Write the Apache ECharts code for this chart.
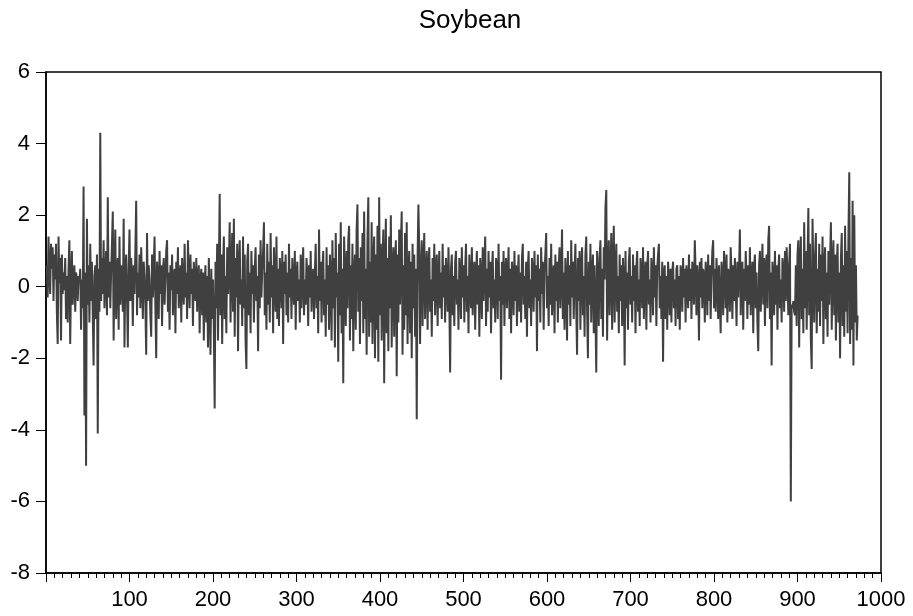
<!DOCTYPE html>
<html>
<head>
<meta charset="utf-8">
<script src="https://cdn.jsdelivr.net/npm/echarts@6/dist/echarts.min.js"></script>
<style>
  html,body{margin:0;padding:0;background:#fff;}
  #chart{width:913px;height:616px;}
</style>
</head>
<body>
<div id="chart"></div>
<script>
const title = 'Soybean';
const xMin = 0, xMax = 1000, xStep = 100;
const yMin = -8, yMax = 6, yStep = 2;

const values = [
  0.6,-0.3,1.4,0.3,-0.2,1.2,0.5,1.1,-0.4,0.9,
  0.2,1.2,-0.7,-1.6,1.4,0.1,0.8,-1.5,0.9,-0.2,
  0.4,-0.1,0.8,-0.9,0.3,-1.0,0.5,1.3,-1.6,0.2,
  1.0,-0.5,0.3,0.6,-0.7,0.4,0.2,-0.4,0.3,0.1,
  0.5,-1.2,0.2,-0.6,2.8,-3.6,0.4,-5.0,1.9,-0.5,
  0.6,-1.0,1.2,-0.4,0.7,-0.8,-2.2,0.3,0.6,-0.9,
  0.9,-4.1,0.5,-0.7,4.3,-0.4,0.8,-0.2,1.3,-0.6,
  0.2,1.0,-0.8,2.5,-0.3,0.7,-0.6,0.4,1.2,2.1,
  -1.5,0.5,1.6,-0.9,0.3,0.8,-1.2,1.4,-0.5,0.6,
  0.2,-0.7,1.9,-1.7,0.4,0.9,-0.3,-1.7,0.5,1.6,
  -0.4,0.8,0.3,-1.1,0.6,-0.2,1.0,2.4,-0.8,0.4,
  -0.3,0.9,-0.6,1.1,0.2,-0.9,0.7,0.3,-0.5,-1.9,
  1.5,-0.4,0.6,0.2,-0.8,-1.4,0.9,-0.3,0.5,1.4,
  -0.6,-2.0,0.7,0.3,-0.9,1.0,-0.2,0.6,-1.1,0.4,
  0.8,-0.5,0.2,1.0,1.3,-0.7,0.4,-1.2,0.6,-0.1,
  0.9,-0.8,0.3,0.5,-1.3,0.7,-0.2,1.1,-0.6,0.2,
  0.6,-1.0,0.8,0.1,-0.5,1.2,-0.3,0.4,-0.9,1.3,
  0.2,-0.6,0.9,-0.2,0.5,-1.1,0.7,0.1,-0.4,0.8,
  -0.7,0.3,0.6,-1.3,0.2,0.5,-0.8,0.4,-1.5,0.1,
  0.6,-1.0,0.3,-1.7,0.8,-0.4,-1.9,0.5,-0.9,0.2,
  -1.2,-3.4,0.7,-0.6,1.2,-1.5,0.4,2.6,-0.8,0.9,
  -1.6,0.5,1.4,-0.9,0.3,-1.3,1.1,-0.2,0.6,1.8,
  -1.0,0.4,1.5,-0.7,1.9,-1.4,0.8,-0.3,1.2,-1.8,
  0.6,1.3,-0.5,0.2,-1.1,1.4,-0.6,0.9,-1.5,-2.3,
  0.7,1.2,-0.8,0.4,-1.3,1.0,-0.2,0.6,-1.0,0.5,
  1.1,-0.4,0.3,-1.8,0.9,-0.6,1.3,-0.3,0.5,1.0,
  1.8,-0.8,0.4,-1.2,1.2,-0.5,0.7,-1.0,1.5,-0.3,
  0.6,-1.3,1.1,0.2,-0.7,1.4,-0.9,0.5,-1.1,0.8,
  0.3,-0.6,1.0,-1.6,0.7,-0.2,0.9,-0.8,0.4,-1.0,
  1.2,-0.3,0.5,-0.9,0.8,0.1,-0.5,1.0,-1.2,0.3,
  0.7,-0.4,0.2,-1.0,0.9,-0.6,0.4,1.1,-0.8,0.2,
  -0.5,0.8,0.3,-1.1,0.6,-0.3,1.0,-0.7,0.2,0.5,
  -0.9,0.4,1.2,-0.6,0.3,-1.3,1.6,-0.4,0.7,-1.0,
  0.5,1.0,-0.8,0.2,-1.4,1.1,-0.5,0.6,-1.2,0.9,
  0.3,-1.5,1.3,-0.6,0.8,-1.7,1.5,-0.3,0.4,-2.1,
  1.2,-0.8,1.8,-1.3,0.5,-2.7,1.4,0.2,-1.1,1.0,
  -0.6,1.3,1.7,-1.5,0.6,-0.9,1.2,-1.8,0.4,0.9,
  -1.2,1.6,2.3,-0.7,0.8,-1.6,1.1,-0.4,1.5,-1.3,
  2.1,-0.9,0.5,-1.9,1.3,2.5,-1.4,0.7,-1.0,1.8,
  -1.6,0.6,1.4,-2.0,0.9,-1.2,1.7,-2.1,2.5,-0.8,
  1.2,-1.5,0.6,1.6,-2.7,0.4,1.9,-1.3,0.8,-1.8,
  1.4,-0.6,2.0,-1.7,0.5,1.1,-1.4,0.7,1.3,-2.5,
  0.9,-1.0,1.6,-0.5,1.2,2.1,-1.9,0.6,-1.2,1.5,
  -0.8,1.8,-1.6,0.4,1.0,-1.3,0.7,-2.0,1.2,-0.6,
  0.9,-1.4,0.5,-3.7,0.8,2.3,1.0,-1.6,0.4,1.3,
  -1.1,0.6,1.5,-0.9,0.3,1.0,-1.2,0.5,1.1,-0.7,
  0.2,-1.4,0.8,-0.4,1.2,-0.8,0.5,0.9,-1.1,0.3,
  1.0,-0.6,0.4,-0.9,1.2,-0.3,0.6,-1.0,0.8,0.2,
  -0.7,1.1,-0.4,-2.4,0.5,0.9,-0.8,0.3,-1.1,0.7,
  1.0,-0.5,0.2,-1.2,0.8,0.4,-0.9,1.1,-0.3,0.6,
  -1.0,0.5,1.2,-0.7,0.3,-1.3,0.9,0.1,-0.6,1.1,
  -0.8,0.4,0.7,-1.2,0.2,1.0,-0.5,0.6,-1.4,0.8,
  0.3,-0.9,1.1,-0.4,0.6,1.4,-1.1,0.5,-0.7,1.0,
  -0.3,0.7,-1.3,0.4,1.0,-0.6,0.2,-1.0,0.8,0.5,
  -0.9,1.2,-0.4,0.3,-2.6,0.7,-0.5,1.0,-1.1,0.4,
  0.8,-0.6,0.2,1.1,-0.9,0.5,-1.3,0.7,0.3,-0.8,
  1.0,-0.4,0.6,-1.1,0.2,0.9,-0.7,0.4,-1.0,0.8,
  1.2,-0.5,0.3,-0.9,0.7,-1.4,0.5,1.0,-0.6,0.2,
  -1.1,0.8,0.4,-0.7,1.0,-0.3,0.6,-1.8,0.9,-0.4,
  0.5,-1.0,1.1,-0.2,0.7,-1.2,0.4,0.9,1.5,-0.6,
  0.3,-1.1,0.8,-0.5,1.2,-0.8,0.2,0.6,-1.3,0.9,
  -0.4,0.7,-1.0,0.5,1.1,-0.6,0.3,1.6,-0.9,0.4,
  -1.2,0.8,0.2,-1.5,1.0,-0.5,0.6,-1.1,1.3,-0.3,
  0.7,-0.9,0.4,1.2,-0.6,-1.9,0.8,-0.4,1.0,-1.2,
  0.5,1.1,-0.8,0.3,-1.4,0.9,1.4,-0.6,-2.0,0.7,
  -0.5,1.2,-1.0,0.4,0.9,-1.3,0.6,-0.7,-2.4,1.0,
  0.3,-1.1,0.8,1.3,-0.9,0.5,-1.4,1.1,0.2,2.2,
  2.7,-1.5,0.6,1.3,-0.8,0.4,1.5,-1.2,0.7,1.7,
  -1.0,0.5,1.2,-0.7,0.3,-1.3,0.9,-0.4,0.6,-1.1,
  0.8,0.2,-2.2,1.0,-0.6,0.4,-1.2,0.7,1.1,-0.5,
  0.3,-1.0,0.9,-0.4,0.6,-1.3,0.5,1.0,-0.7,0.2,
  -1.1,0.8,0.4,-0.6,1.1,-0.9,0.3,0.7,-1.2,0.5,
  1.0,-0.5,0.2,-1.0,0.8,0.4,-0.8,1.1,-0.3,0.6,
  -1.1,0.5,0.9,1.2,-0.6,0.3,-0.9,0.7,-2.1,0.4,
  0.6,-0.9,0.3,-1.2,0.7,0.2,-0.8,0.5,-1.0,0.4,
  0.7,-0.6,0.2,-1.1,0.5,0.6,-0.9,0.3,-1.2,0.6,
  0.4,-0.7,0.8,-0.3,0.5,-1.0,0.6,0.2,-0.6,0.9,
  -0.4,0.5,-0.9,0.7,0.3,-0.5,1.3,0.4,-0.8,0.6,
  0.2,-1.5,0.7,-0.3,0.8,-0.6,0.5,0.3,-1.0,0.7,
  0.4,-0.8,0.9,-0.4,0.6,-0.9,0.3,1.0,1.3,-0.6,
  0.5,-0.7,0.8,0.2,-0.9,0.6,-0.4,-1.3,0.7,0.3,
  -0.8,1.0,0.4,-0.6,0.9,-1.0,0.5,0.2,-0.7,1.1,
  0.3,-0.9,0.6,-0.4,0.8,0.1,-1.1,0.7,-0.3,0.5,
  1.6,-0.8,0.4,0.7,-1.2,0.5,-0.4,1.0,0.2,-0.9,
  0.6,-0.5,1.1,-0.8,0.3,0.7,-1.3,0.5,0.9,-0.6,
  0.4,-1.0,-1.8,0.6,1.0,-0.7,0.3,1.2,-0.5,0.8,
  -1.1,0.5,0.9,-0.6,1.3,1.7,-0.9,0.4,-2.2,0.7,
  0.3,-0.8,1.0,-0.5,0.6,-1.2,0.4,0.9,-0.6,0.2,
  -1.0,0.8,0.5,-0.7,1.0,-0.4,1.1,0.3,-0.8,0.6,
  1.2,-6.0,-0.5,-0.6,-0.4,-0.7,-0.8,0.6,-1.1,0.9,
  1.3,-1.7,0.7,1.4,-0.9,0.5,-1.3,1.8,-0.6,1.0,
  -1.2,0.6,2.2,-0.8,1.2,-1.5,-2.3,1.9,0.4,-1.0,
  0.8,1.5,-1.3,0.5,-0.7,1.2,-1.1,0.9,-0.4,1.4,
  -1.6,0.6,1.1,-0.9,0.4,-1.4,1.0,-0.5,0.7,1.8,
  -1.2,0.5,1.3,-0.8,0.9,-1.5,0.6,1.2,-1.0,0.4,
  -2.0,0.8,1.5,-1.1,0.6,-1.4,1.7,-0.7,1.0,-1.3,
  1.4,3.2,-1.6,0.8,-1.2,2.4,-2.2,2.0,-1.0,0.6,
  -1.5,-0.8
];

const seriesData = values.map((v, i) => [i + 1, v]);

const chart = echarts.init(document.getElementById('chart'));
const font = 'Liberation Sans, Arial, sans-serif';

chart.setOption({
  animation: false,
  backgroundColor: '#fff',
  title: {
    text: title,
    left: 465,
    top: 3,
    textAlign: 'center',
    textStyle: {fontFamily: font, fontSize: 26, fontWeight: 'normal', color: '#000'}
  },
  grid: {left: 46, right: 32, top: 72, bottom: 43},
  xAxis: {
    type: 'value',
    min: xMin,
    max: xMax,
    interval: xStep,
    axisLine: {show: true, onZero: false, lineStyle: {color: '#000', width: 1.5}},
    axisTick: {show: true, length: 9, lineStyle: {color: '#000'}},
    minorTick: {show: true, splitNumber: 10, length: 5, lineStyle: {color: '#000'}},
    splitLine: {show: false},
    axisLabel: {
      color: '#000', fontFamily: font, fontSize: 22, margin: 16,
      formatter: v => v === 0 ? '' : String(v)
    }
  },
  yAxis: {
    type: 'value',
    min: yMin,
    max: yMax,
    interval: yStep,
    axisLine: {show: true, lineStyle: {color: '#000', width: 1.5}},
    axisTick: {show: true, length: 10, lineStyle: {color: '#000'}},
    splitLine: {show: false},
    axisLabel: {color: '#000', fontFamily: font, fontSize: 22, margin: 16}
  },
  series: [{
    type: 'line',
    data: seriesData,
    showSymbol: false,
    lineStyle: {color: '#404040', width: 2},
    z: 1
  }]
});

// box frame on top and right, as in the original
chart.setOption({
  graphic: [{
    type: 'rect',
    shape: {x: 46, y: 72, width: 835, height: 501},
    style: {fill: 'none', stroke: '#000', lineWidth: 1.5},
    silent: true
  }]
});
</script>
</body>
</html>
